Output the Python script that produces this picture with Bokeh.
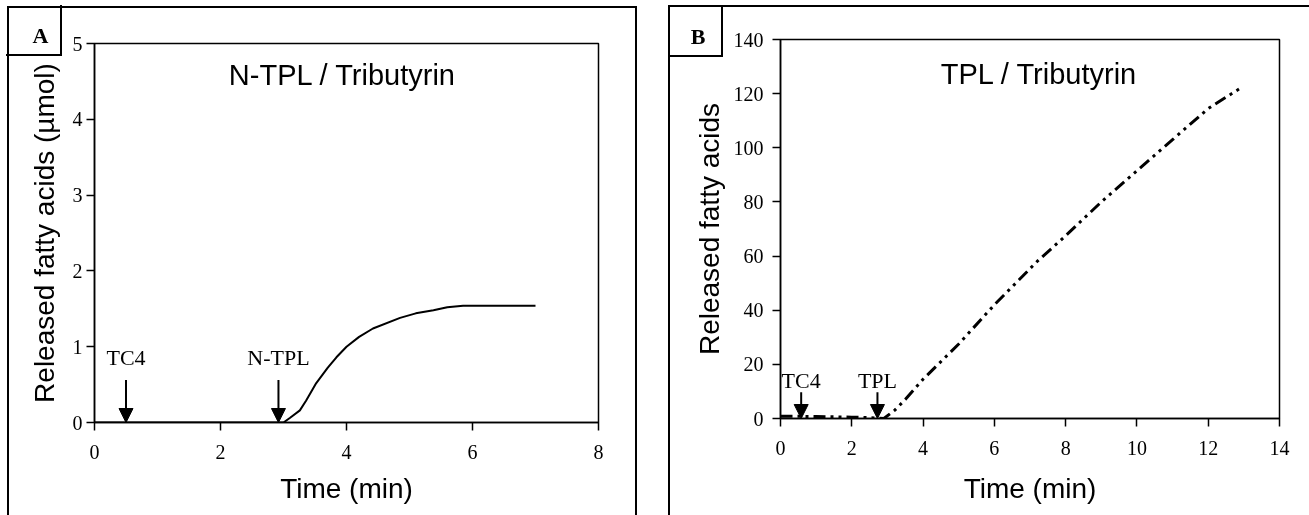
from bokeh.plotting import figure
from bokeh.layouts import row
from bokeh.models import Label, Arrow, NormalHead, FixedTicker, Div
from bokeh.embed import file_html
from bokeh.resources import INLINE

# ---- data ----
a_time = [0, 1.0, 2.0, 3.0, 3.1, 3.26, 3.36, 3.52, 3.7, 3.84, 4.0, 4.2, 4.42, 4.85, 5.1, 5.38, 5.6, 5.85, 6.5, 7.0]
a_fa = [0, 0, 0, 0, 0.06, 0.16, 0.29, 0.52, 0.72, 0.86, 1.0, 1.13, 1.24, 1.38, 1.44, 1.48, 1.52, 1.54, 1.54, 1.54]

b_time = [0, 0.5, 1.0, 1.5, 2.0, 2.3, 2.9, 3.2, 3.5, 4.0, 5.0, 6.0, 7.2, 8.0, 9.0, 10.0, 11.0, 12.0, 12.9]
b_fa = [0.8, 0.8, 0.7, 0.6, 0.5, 0.4, 0, 3, 7, 14.5, 27.5, 42, 58, 67.5, 80, 91.5, 103, 114.5, 122]

a_xticks = [0, 2, 4, 6, 8]
a_yticks = [0, 1, 2, 3, 4, 5]
b_xticks = [0, 2, 4, 6, 8, 10, 12, 14]
b_yticks = [0, 20, 40, 60, 80, 100, 120, 140]

a_events = ["TC4", "N-TPL"]
a_event_t = [0.5, 2.92]
b_events = ["TC4", "TPL"]
b_event_t = [0.58, 2.72]

SERIF = "Liberation Serif"
SANS = "Liberation Sans"


def style(p, xticks, yticks, ylabel):
    p.xaxis.ticker = FixedTicker(ticks=xticks)
    p.yaxis.ticker = FixedTicker(ticks=yticks)
    p.xgrid.visible = False
    p.ygrid.visible = False
    p.outline_line_color = "black"
    p.outline_line_width = 1.5
    for ax in (p.xaxis[0], p.yaxis[0]):
        ax.axis_line_width = 1.5
        ax.major_tick_line_width = 1.5
        ax.major_tick_in = 0
        ax.major_tick_out = 8
        ax.minor_tick_line_color = None
        ax.major_label_text_font = SERIF
        ax.major_label_text_font_size = "20px"
        ax.major_label_text_color = "black"
        ax.axis_label_text_font = SANS
        ax.axis_label_text_font_size = "28px"
        ax.axis_label_text_font_style = "normal"
        ax.axis_label_text_color = "black"
    p.xaxis.axis_label = "Time (min)"
    p.yaxis.axis_label = ylabel
    p.xaxis.major_label_standoff = 14
    p.yaxis.major_label_standoff = 4
    p.xaxis.axis_label_standoff = 11
    p.background_fill_color = "white"
    p.border_fill_color = "white"


def add_events(p, names, times, y_top, y_lab):
    for name, t in zip(names, times):
        p.add_layout(Arrow(end=NormalHead(size=14, fill_color="black", line_color="black"),
                           x_start=t, y_start=y_top, x_end=t, y_end=0,
                           line_color="black", line_width=2))
        p.add_layout(Label(x=t, y=y_lab, text=name, text_align="center", text_baseline="middle",
                           text_font=SERIF, text_font_size="22px", text_color="black"))


H = 526

# ---------------- Panel A ----------------
pA = figure(width=630, height=H, x_range=(0, 8), y_range=(0, 5),
            output_backend="svg", toolbar_location=None,
            min_border_left=85, min_border_right=41, min_border_top=35, min_border_bottom=112,
            styles={"border-left": "2px solid black", "border-top": "2px solid black",
                    "border-right": "2px solid black"})
style(pA, a_xticks, a_yticks, "Released fatty acids (µmol)")
pA.yaxis.axis_label_standoff = 10
pA.line(a_time, a_fa, line_color="black", line_width=2)
pA.add_layout(Label(x=3.94, y=4.59, text="N-TPL / Tributyrin", text_align="center",
                    text_baseline="middle", text_font=SANS, text_font_size="29px",
                    text_color="black"))
add_events(pA, a_events, a_event_t, 0.56, 0.86)

# ---------------- Panel B ----------------
pB = figure(width=630, height=H, x_range=(0, 14), y_range=(0, 140),
            output_backend="svg", toolbar_location=None,
            min_border_left=109, min_border_right=22, min_border_top=35, min_border_bottom=112,
            styles={"margin-top": "-2px"})
style(pB, b_xticks, b_yticks, "Released fatty acids")
pB.yaxis.axis_label_standoff = 6
pB.yaxis.major_label_standoff = 9
pB.xaxis.axis_label_standoff = 15
pB.line(b_time, b_fa, line_color="black", line_width=3, line_dash="12 5 3 5 3 5")
pB.add_layout(Label(x=7.26, y=127.4, text="TPL / Tributyrin", text_align="center",
                    text_baseline="middle", text_font=SANS, text_font_size="29px",
                    text_color="black"))
add_events(pB, b_events, b_event_t, 9.7, 14.1)


# ---------------- panel letters and panel B outline ----------------
def letter_box(letter, left, top, w, h, pad):
    return Div(text=letter, width=w, height=h,
               styles={"position": "absolute", "left": f"{left}px", "top": f"{top}px",
                       "box-sizing": "border-box",
                       "border-right": "2px solid black", "border-bottom": "2px solid black",
                       "font-family": SERIF, "font-size": "22px", "font-weight": "bold",
                       "color": "black", "display": "flex", "align-items": "center",
                       "justify-content": "center", "padding": pad, "z-index": "10"})


divA = letter_box("A", 1, 0, 56, 51, "12px 0 0 15px")
divB = letter_box("B", 663, 0, 55, 52, "13px 0 0 7px")
frameB = Div(text="", width=660, height=540,
             styles={"position": "absolute", "left": "663px", "top": "0px",
                     "box-sizing": "border-box", "border-left": "2px solid black",
                     "border-top": "2px solid black", "pointer-events": "none", "z-index": "5"})

layout = row(pA, pB, divA, divB, frameB, spacing=34,
             styles={"padding": "6px 0 0 7px", "position": "fixed", "left": "0px", "top": "0px"})
open("out.html", "w").write(file_html(layout, INLINE))
